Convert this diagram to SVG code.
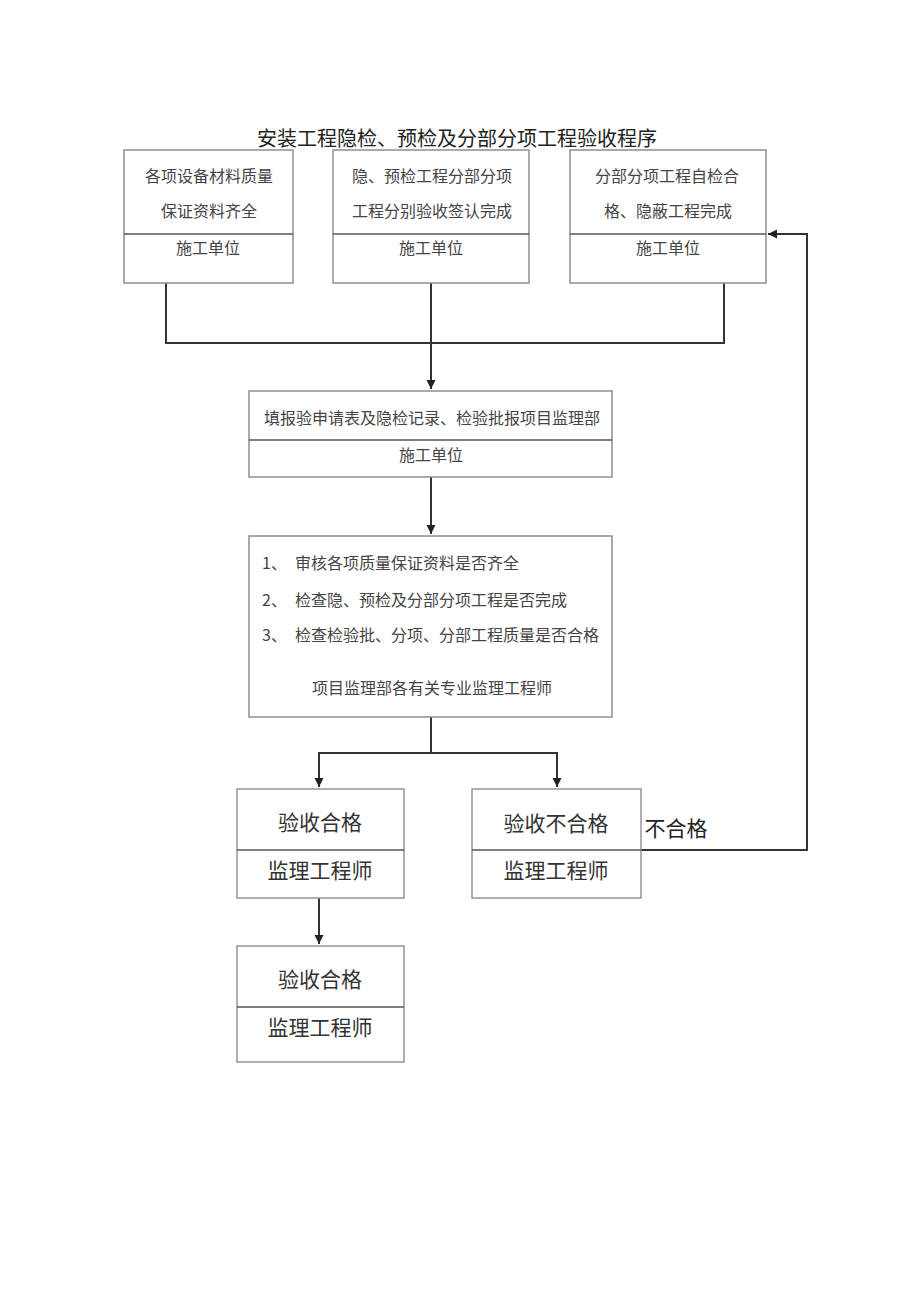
<svg xmlns="http://www.w3.org/2000/svg" width="920" height="1301" viewBox="0 0 920 1301">
<style>
.box{fill:#fff;stroke:#8f8f8f;stroke-width:1.5}
.box2{fill:#fff;stroke:#9a90a0;stroke-width:1.5}
.div{stroke:#555;stroke-width:1.5}
.t{font-family:"Noto Sans CJK SC","Liberation Serif",serif;font-size:16px;fill:#444;text-anchor:middle;dominant-baseline:central}
.tl{font-family:"Noto Sans CJK SC","Liberation Serif",serif;font-size:16px;fill:#444;dominant-baseline:central}
.big{font-family:"Noto Sans CJK SC","Liberation Serif",serif;font-size:21px;fill:#333;text-anchor:middle;dominant-baseline:central}
.title{font-family:"Noto Sans CJK SC","Liberation Serif",serif;font-size:20px;fill:#222;text-anchor:middle;dominant-baseline:central}
.c{fill:none;stroke:#333;stroke-width:2}
</style>
<defs>
<marker id="ah" markerUnits="userSpaceOnUse" markerWidth="10" markerHeight="10" refX="9" refY="5" orient="auto">
<path d="M0,0.5 L9,5 L0,9.5 z" fill="#222"/>
</marker>
</defs>
<rect width="920" height="1301" fill="#fff"/>
<text class="title" x="457" y="137">安装工程隐检、预检及分部分项工程验收程序</text>

<g id="connectors">
<polyline class="c" points="166,283 166,343 724,343 724,283"/>
<line class="c" x1="431" y1="283" x2="431" y2="389" marker-end="url(#ah)"/>
<line class="c" x1="431" y1="477" x2="431" y2="534" marker-end="url(#ah)"/>
<line class="c" x1="431" y1="717" x2="431" y2="753"/>
<polyline class="c" points="319,753 557,753"/>
<line class="c" x1="319" y1="752" x2="319" y2="787" marker-end="url(#ah)"/>
<line class="c" x1="557" y1="752" x2="557" y2="787" marker-end="url(#ah)"/>
<line class="c" x1="319" y1="898" x2="319" y2="944" marker-end="url(#ah)"/>
<polyline class="c" points="641,850 807,850 807,234 768,234" marker-end="url(#ah)"/>
</g>

<g id="n1">
<rect class="box" x="124" y="150" width="169" height="133"/>
<line class="div" x1="124" y1="234" x2="293" y2="234"/>
<text class="t" x="209" y="175">各项设备材料质量</text>
<text class="t" x="209" y="210">保证资料齐全</text>
<text class="t" x="208" y="247">施工单位</text>
</g>

<g id="n2">
<rect class="box" x="333" y="150" width="196" height="133"/>
<line class="div" x1="333" y1="234" x2="529" y2="234"/>
<text class="t" x="432" y="175">隐、预检工程分部分项</text>
<text class="t" x="432" y="210">工程分别验收签认完成</text>
<text class="t" x="431" y="247">施工单位</text>
</g>

<g id="n3">
<rect class="box" x="570" y="150" width="196" height="133"/>
<line class="div" x1="570" y1="234" x2="766" y2="234"/>
<text class="t" x="667" y="175">分部分项工程自检合</text>
<text class="t" x="668" y="210">格、隐蔽工程完成</text>
<text class="t" x="668" y="247">施工单位</text>
</g>

<g id="n4">
<rect class="box" x="249" y="391" width="363" height="86"/>
<line class="div" x1="249" y1="440" x2="612" y2="440"/>
<text class="t" x="432" y="417">填报验申请表及隐检记录、检验批报项目监理部</text>
<text class="t" x="431" y="454">施工单位</text>
</g>

<g id="n5">
<rect class="box" x="249" y="536" width="363" height="181"/>
<text class="tl" x="262" y="562">1、</text>
<text class="tl" x="295" y="562">审核各项质量保证资料是否齐全</text>
<text class="tl" x="262" y="599">2、</text>
<text class="tl" x="295" y="599">检查隐、预检及分部分项工程是否完成</text>
<text class="tl" x="262" y="634">3、</text>
<text class="tl" x="295" y="634">检查检验批、分项、分部工程质量是否合格</text>
<text class="t" x="432" y="687">项目监理部各有关专业监理工程师</text>
</g>

<g id="n6">
<rect class="box2" x="237" y="789" width="167" height="109"/>
<line class="div" x1="237" y1="850" x2="404" y2="850"/>
<text class="big" x="320" y="821">验收合格</text>
<text class="big" x="320" y="869">监理工程师</text>
</g>

<g id="n7">
<rect class="box2" x="472" y="789" width="169" height="109"/>
<line class="div" x1="472" y1="850" x2="641" y2="850"/>
<text class="big" x="556" y="822">验收不合格</text>
<text class="big" x="556" y="869">监理工程师</text>
</g>
<text class="big" x="676" y="827" style="fill:#222">不合格</text>

<g id="n8">
<rect class="box2" x="237" y="946" width="167" height="116"/>
<line class="div" x1="237" y1="1007" x2="404" y2="1007"/>
<text class="big" x="320" y="978">验收合格</text>
<text class="big" x="320" y="1026">监理工程师</text>
</g>
</svg>
